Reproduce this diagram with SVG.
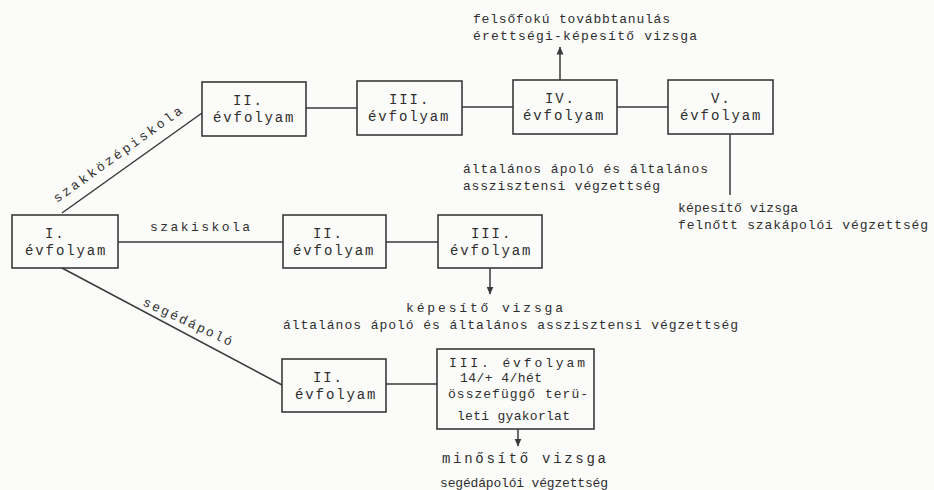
<svg xmlns="http://www.w3.org/2000/svg" width="934" height="490" viewBox="0 0 934 490">
<style>
.bg{fill:#fbfbfa}
.box{fill:none;stroke:#3a3a3a;stroke-width:1.6}
.ln{fill:none;stroke:#3a3a3a;stroke-width:1.5}
.t{font-family:"Liberation Mono","DejaVu Sans Mono",monospace;font-size:13px;fill:#2e2e2e}
.b{font-family:"Liberation Mono","DejaVu Sans Mono",monospace;font-size:14px;fill:#2e2e2e;letter-spacing:1.9px}
</style>
<defs>
<marker id="ah" viewBox="0 0 8 10" refX="7.5" refY="5" markerWidth="8" markerHeight="10" markerUnits="userSpaceOnUse" orient="auto">
<path d="M0,1.5 L8,5 L0,8.5 Z" fill="#3a3a3a"/>
</marker>
</defs>
<rect class="bg" x="0" y="0" width="934" height="490"/>

<g id="connectors">
<line class="ln" x1="62" y1="213" x2="202" y2="113"/>
<line class="ln" x1="118" y1="242" x2="283" y2="242"/>
<line class="ln" x1="62" y1="268" x2="282" y2="385"/>
<line class="ln" x1="306" y1="108" x2="357" y2="108"/>
<line class="ln" x1="462" y1="107" x2="513" y2="107"/>
<line class="ln" x1="617" y1="107" x2="668" y2="107"/>
<line class="ln" x1="560" y1="80" x2="560" y2="47" marker-end="url(#ah)"/>
<line class="ln" x1="730" y1="134" x2="730" y2="195"/>
<line class="ln" x1="386" y1="242" x2="438" y2="242"/>
<line class="ln" x1="490" y1="268" x2="490" y2="294" marker-end="url(#ah)"/>
<line class="ln" x1="386" y1="384" x2="437" y2="384"/>
<line class="ln" x1="518" y1="429" x2="518" y2="446" marker-end="url(#ah)"/>
<text class="t" transform="translate(57,203) rotate(-35.6)" textLength="155" lengthAdjust="spacing">szakközépiskola</text>
<text class="t" x="150" y="231" textLength="100" lengthAdjust="spacing">szakiskola</text>
<text class="t" transform="translate(142,305) rotate(25)" textLength="97" lengthAdjust="spacing">segédápoló</text>
</g>

<g id="n1">
<rect class="box" x="12" y="215" width="106" height="53"/>
<text class="b" x="45" y="237.5">I.</text>
<text class="b" x="25" y="254.5">évfolyam</text>
</g>

<g id="n2a">
<rect class="box" x="202" y="82" width="104" height="54"/>
<text class="b" x="233" y="105">II.</text>
<text class="b" x="213" y="122">évfolyam</text>
</g>
<g id="n3a">
<rect class="box" x="357" y="81" width="105" height="54"/>
<text class="b" x="389" y="104">III.</text>
<text class="b" x="368" y="121">évfolyam</text>
</g>
<g id="n4a">
<rect class="box" x="513" y="80" width="104" height="54"/>
<text class="b" x="545" y="103">IV.</text>
<text class="b" x="523" y="120">évfolyam</text>
</g>
<g id="n5a">
<rect class="box" x="668" y="80" width="105" height="54"/>
<text class="b" x="711" y="103">V.</text>
<text class="b" x="680" y="120">évfolyam</text>
</g>

<g id="out-top">
<text class="t" x="473" y="23" textLength="197" lengthAdjust="spacing">felsőfokú továbbtanulás</text>
<text class="t" x="473" y="40" textLength="224" lengthAdjust="spacing">érettségi-képesítő vizsga</text>
</g>
<g id="out-4">
<text class="t" x="463" y="173" textLength="245" lengthAdjust="spacing">általános ápoló és általános</text>
<text class="t" x="463" y="190" textLength="197" lengthAdjust="spacing">asszisztensi végzettség</text>
</g>
<g id="out-5">
<text class="t" x="678" y="212" textLength="120" lengthAdjust="spacing">képesítő vizsga</text>
<text class="t" x="678" y="229" textLength="250" lengthAdjust="spacing">felnőtt szakápolói végzettség</text>
</g>

<g id="n2b">
<rect class="box" x="283" y="215" width="103" height="53"/>
<text class="b" x="313" y="237.5">II.</text>
<text class="b" x="293" y="254.5">évfolyam</text>
</g>
<g id="n3b">
<rect class="box" x="438" y="215" width="104" height="53"/>
<text class="b" x="471" y="237.5">III.</text>
<text class="b" x="450" y="254.5">évfolyam</text>
</g>
<g id="out-3b">
<text class="t" x="406" y="312" textLength="157" lengthAdjust="spacing">képesítő vizsga</text>
<text class="t" x="283" y="329" textLength="455" lengthAdjust="spacing">általános ápoló és általános asszisztensi végzettség</text>
</g>

<g id="n2c">
<rect class="box" x="282" y="359" width="104" height="53"/>
<text class="b" x="313" y="381.5">II.</text>
<text class="b" x="295" y="398.5">évfolyam</text>
</g>
<g id="n3c">
<rect class="box" x="437" y="349" width="157" height="80"/>
<text class="t" x="449" y="367" textLength="136" lengthAdjust="spacing">III. évfolyam</text>
<text class="t" x="460" y="382" textLength="82" lengthAdjust="spacing">14/+ 4/hét</text>
<text class="t" x="448" y="398" textLength="140" lengthAdjust="spacing">összefüggő terü-</text>
<text class="t" x="457" y="420" textLength="113" lengthAdjust="spacing">leti gyakorlat</text>
</g>
<g id="out-3c">
<text class="t" x="442" y="463" textLength="164" lengthAdjust="spacing" style="font-size:14px">minősítő vizsga</text>
<text class="t" x="440" y="487" textLength="168" lengthAdjust="spacing">segédápolói végzettség</text>
</g>
</svg>
